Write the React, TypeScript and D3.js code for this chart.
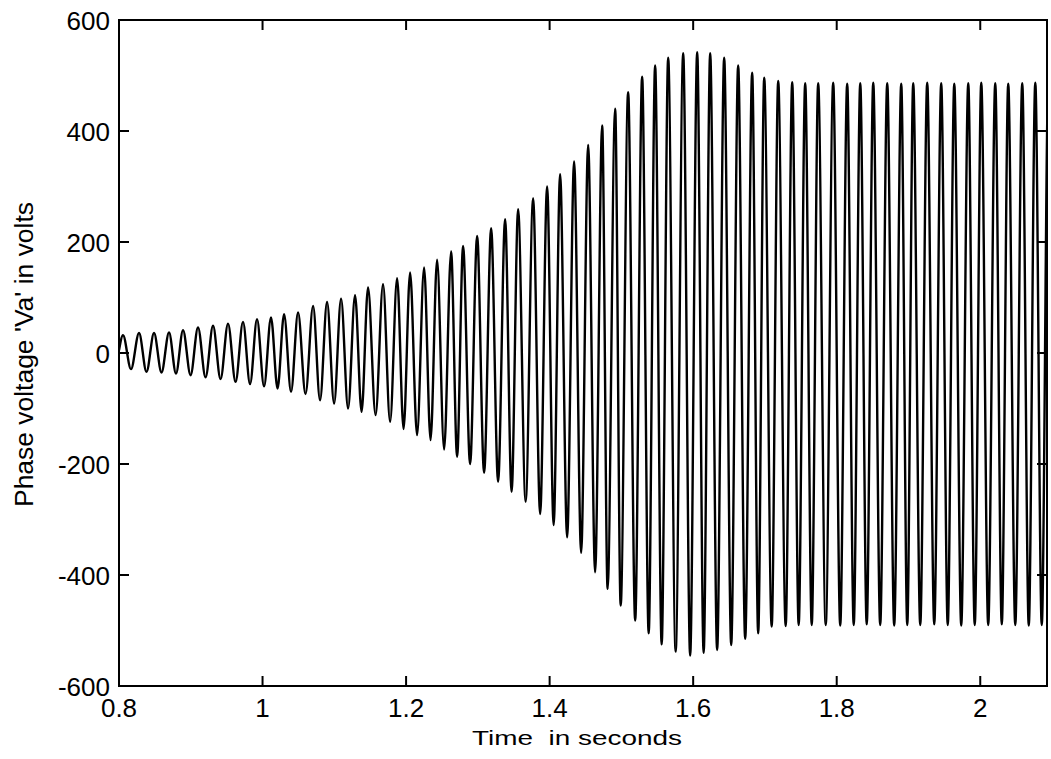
import React from "react";
import * as d3 from "d3";

// ---- data ----
const xTicks = [0.8, 1, 1.2, 1.4, 1.6, 1.8, 2];
const yTicks = [-600, -400, -200, 0, 200, 400, 600];
const xTickLabels = ["0.8", "1", "1.2", "1.4", "1.6", "1.8", "2"];
const yTickLabels = ["-600", "-400", "-200", "0", "200", "400", "600"];

const startTime = 0.8;
const startValue = 5;

// times of the positive peaks (s)
const peakTimes = [
  0.8056, 0.8279, 0.8488, 0.8697, 0.8892, 0.9101, 0.931, 0.9519, 0.9728, 0.9923,
  1.0118, 1.03, 1.0495, 1.0704, 1.0899, 1.1094, 1.1289, 1.147, 1.1679, 1.1875,
  1.2056, 1.2251, 1.2432, 1.2627, 1.2794, 1.299, 1.3185, 1.338, 1.3561, 1.377,
  1.3965, 1.4146, 1.4341, 1.4537, 1.4732, 1.4913, 1.5094, 1.5289, 1.547, 1.5652,
  1.5861, 1.6056, 1.6237, 1.6432, 1.6627, 1.6822, 1.699, 1.7185, 1.738, 1.7561,
  1.7742, 1.7951, 1.8146, 1.8328, 1.8509, 1.8704, 1.8899, 1.9066, 1.9261, 1.9456,
  1.9638, 1.9833, 2.0014, 2.0209, 2.039, 2.0585, 2.0767, 2.0948,
];
// phase voltage at the positive peaks (V)
const peakValues = [
  32, 36, 36, 37, 41, 46, 49, 53, 56, 61,
  64, 70, 73, 85, 92, 98, 104, 118, 124, 135,
  145, 154, 168, 183, 193, 211, 225, 241, 259, 279,
  300, 322, 345, 375, 410, 440, 470, 498, 518, 532,
  540, 542, 540, 532, 518, 505, 496, 490, 488, 486,
  486, 487, 485, 486, 487, 486, 485, 486, 487, 486,
  485, 486, 487, 486, 485, 486, 487, 486,
];
// times of the negative peaks (s)
const troughTimes = [
  0.8167, 0.8383, 0.8592, 0.8794, 0.8997, 0.9206, 0.9415, 0.9624, 0.9826, 1.0021,
  1.0209, 1.0397, 1.0599, 1.0801, 1.0997, 1.1192, 1.138, 1.1575, 1.1777, 1.1965,
  1.2153, 1.2341, 1.253, 1.2711, 1.2892, 1.3087, 1.3282, 1.347, 1.3666, 1.3868,
  1.4056, 1.4244, 1.4439, 1.4634, 1.4808, 1.499, 1.5192, 1.538, 1.5561, 1.5756,
  1.5958, 1.6146, 1.6334, 1.653, 1.6725, 1.6906, 1.7094, 1.7289, 1.747, 1.7652,
  1.7847, 1.8049, 1.8237, 1.8418, 1.8606, 1.8801, 1.8983, 1.9164, 1.9359, 1.9547,
  1.9735, 1.9923, 2.0111, 2.03, 2.0488, 2.0676, 2.0857, 2.1045,
];
// phase voltage at the negative peaks (V)
const troughValues = [
  -29, -34, -35, -37, -40, -44, -47, -52, -56, -60,
  -64, -70, -74, -85, -91, -100, -106, -112, -124, -137,
  -148, -157, -174, -187, -200, -216, -232, -250, -268, -290,
  -310, -332, -360, -395, -425, -455, -482, -505, -525, -538,
  -545, -540, -535, -526, -515, -505, -493, -492, -490, -490,
  -490, -491, -490, -489, -490, -491, -490, -490, -489, -490,
  -491, -490, -490, -489, -490, -491, -490, -490,
];

const xLabel = "Time  in seconds";
const yLabel = "Phase voltage 'Va' in volts";

// ---- layout ----
const W = 1051;
const H = 759;
const M = { left: 119, right: 1047, top: 20, bottom: 686 };
const xMax = 2.093;

export default function App() {
  const x = d3.scaleLinear().domain([0.8, xMax]).range([M.left, M.right]);
  const y = d3.scaleLinear().domain([-600, 600]).range([M.bottom, M.top]);

  const pts: [number, number][] = [[startTime, startValue]];
  peakTimes.forEach((t, i) => {
    pts.push([t, peakValues[i]]);
    pts.push([troughTimes[i], troughValues[i]]);
  });

  const line = d3
    .line<[number, number]>()
    .x((d) => x(d[0]))
    .y((d) => y(d[1]))
    .curve(d3.curveMonotoneX);

  const font = "'Liberation Sans', Arial, Helvetica, sans-serif";
  const tickLen = 10;

  return (
    <svg
      width={W}
      height={H}
      style={{ position: "absolute", left: 0, top: 0, background: "#fff" }}
    >
      <defs>
        <clipPath id="plotclip">
          <rect x={M.left} y={M.top} width={M.right - M.left} height={M.bottom - M.top} />
        </clipPath>
      </defs>
      <rect x={0} y={0} width={W} height={H} fill="#fff" />

      <path
        d={line(pts) || ""}
        fill="none"
        stroke="#000"
        strokeWidth={2.4}
        clipPath="url(#plotclip)"
      />

      {/* box */}
      <rect
        x={M.left}
        y={M.top}
        width={M.right - M.left}
        height={M.bottom - M.top}
        fill="none"
        stroke="#000"
        strokeWidth={2}
      />

      {/* x ticks */}
      {xTicks.map((t, i) => (
        <g key={"xt" + i}>
          <line x1={x(t)} x2={x(t)} y1={M.bottom} y2={M.bottom - tickLen} stroke="#000" strokeWidth={2} />
          <line x1={x(t)} x2={x(t)} y1={M.top} y2={M.top + tickLen} stroke="#000" strokeWidth={2} />
          <text
            x={x(t)}
            y={717}
            textAnchor="middle"
            fontFamily={font}
            fontSize={26}
            fill="#000"
          >
            {xTickLabels[i]}
          </text>
        </g>
      ))}

      {/* y ticks */}
      {yTicks.map((v, i) => (
        <g key={"yt" + i}>
          <line x1={M.left} x2={M.left + tickLen} y1={y(v)} y2={y(v)} stroke="#000" strokeWidth={2} />
          <line x1={M.right} x2={M.right - tickLen} y1={y(v)} y2={y(v)} stroke="#000" strokeWidth={2} />
          <text
            x={110}
            y={y(v) + 10}
            textAnchor="end"
            fontFamily={font}
            fontSize={26}
            fill="#000"
          >
            {yTickLabels[i]}
          </text>
        </g>
      ))}

      {/* axis labels */}
      <text
        x={472}
        y={745}
        fontFamily={font}
        fontSize={20}
        textLength={210}
        lengthAdjust="spacingAndGlyphs"
        style={{ whiteSpace: "pre" }}
        fill="#000"
      >
        {xLabel}
      </text>
      <text
        transform={`translate(33,507) rotate(-90)`}
        x={0}
        y={0}
        fontFamily={font}
        fontSize={26}
        textLength={305}
        lengthAdjust="spacingAndGlyphs"
        fill="#000"
      >
        {yLabel}
      </text>
    </svg>
  );
}
